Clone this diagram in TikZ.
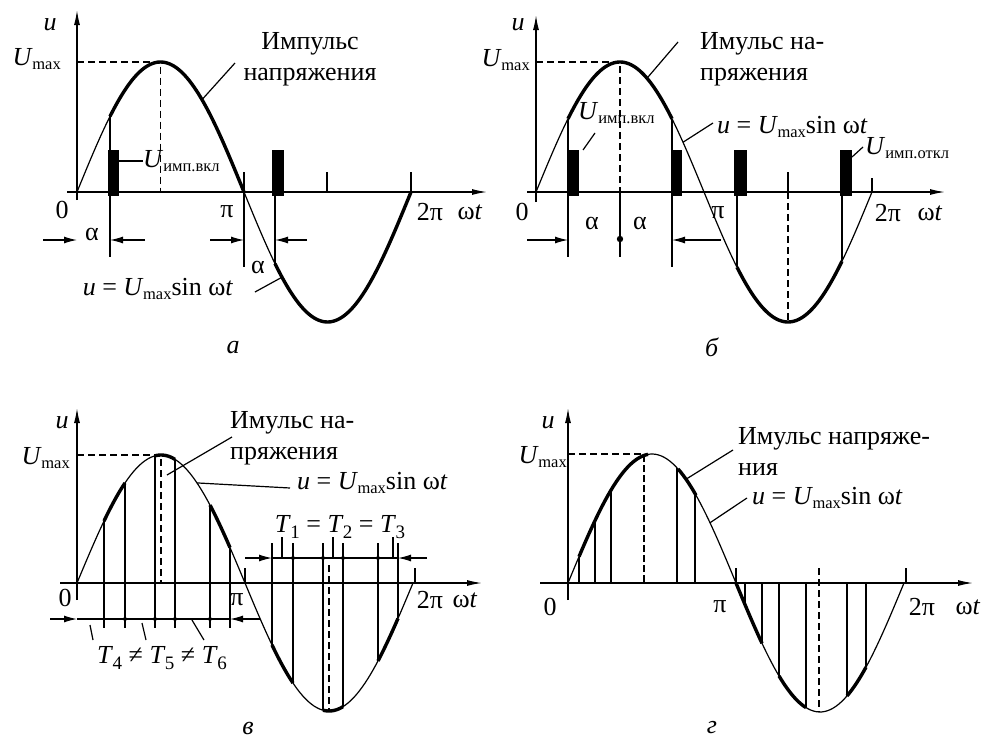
\documentclass[tikz,border=0pt]{standalone}
\usepackage{fontspec}
\setmainfont{Liberation Serif}
\usetikzlibrary{arrows.meta}
\newcommand\fs{\fontsize{26}{31}\selectfont}
\newcommand\sbs[1]{\raisebox{-0.4ex}{\fontsize{16.5}{16.5}\selectfont #1}}
\newcommand\Umx{\textit{U}\kern-0.5pt\sbs{max}}
\newcommand\formula{\textit{u} = \Umx sin ω\textit{t}}
\newcommand\tsub[1]{\textit{T}\kern-0.5pt\raisebox{-0.45ex}{\fontsize{19}{19}\selectfont #1}}
\newcommand\cv[1]{(#1,{-\am*sin((#1)/\hp*180)})}
\begin{document}
\begin{tikzpicture}[x=1pt,y=-1pt,
  axis/.style={line width=1.3pt,-{Latex[length=15pt,width=6pt]}},
  thinw/.style={line width=1.2pt},
  thickw/.style={line width=3.4pt},
  pline/.style={line width=2.4pt},
  dsh/.style={line width=1.1pt,dash pattern=on 7pt off 4pt},
  dim/.style={line width=1.2pt,-{Latex[length=13pt,width=7pt]}},
  lbl/.style={font=\fs,inner sep=0pt},
  pulse/.style={fill=black,draw=none}]
\path[use as bounding box] (0,0) rectangle (989,742);

% ================= panel a
\begin{scope}[shift={(77,192)}]
\def\hp{167}\def\am{130}
\draw[axis] (0,8) -- (0,-182);
\draw[axis] (-10,0) -- (410,0);
\draw[thinw] plot[domain=0:33,samples=15] (\x,{-\am*sin(\x/\hp*180)});
\draw[thickw] plot[domain=33:167,samples=60] (\x,{-\am*sin(\x/\hp*180)});
\draw[thinw] plot[domain=167:198,samples=15] (\x,{-\am*sin(\x/\hp*180)});
\draw[thickw] plot[domain=198:334,samples=60] (\x,{-\am*sin(\x/\hp*180)});
\draw[dsh] (0,-130) -- (83.5,-130) -- (83.5,0);
\draw[thinw] (167,-20) -- (167,0) (250,-20) -- (250,0) (334,-20) -- (334,0);
\fill[pulse] (31,-42) rectangle (42,4);
\fill[pulse] (195,-42) rectangle (207,4);
\draw[thinw] \cv{33} -- (33,65);
\draw[pline] (198,0) -- \cv{198};
\draw[thinw] (167,0) -- (167,75);
\coordinate (a-d1) at (-34,48); \coordinate (a-d1e) at (0,48);
\coordinate (a-d2) at (68,48); \coordinate (a-d2e) at (33,48);
\coordinate (a-d3) at (133,48); \coordinate (a-d3e) at (167,48);
\coordinate (a-d4) at (230,48); \coordinate (a-d4e) at (198,48);
\draw[dim] (a-d1) -- (a-d1e);
\draw[dim] (a-d2) -- (a-d2e);
\draw[dim] (a-d3) -- (a-d3e);
\draw[dim] (a-d4) -- (a-d4e);
\node[lbl] (a-al1) at (15,42) {α};
\node[lbl] (a-al2) at (181,75) {α};
\node[lbl] (a-u) at (-27,-167) {\textit{u}};
\node[lbl,anchor=east] (a-um) at (-16,-133) {\Umx};
\node[lbl] (a-0) at (-15,18) {0};
\node[lbl] (a-pi) at (150,20) {π};
\node[lbl] (a-2pi) at (353,20) {2π};
\node[lbl] (a-wt) at (393,20) {ω\textit{t}};
\node[lbl,align=center] (a-imp) at (233,-133) {Импульс\\напряжения};
\path \cv{125} coordinate (a-c1);
\coordinate (a-c1e) at (158,-129);
\draw[thinw] (a-c1) -- (a-c1e);
\node[lbl,anchor=west] (a-uv) at (66,-31) {\textit{U}\sbs{имп.вкл}};
\coordinate (a-r1) at (42,-31);
\draw[thinw] (a-r1) -- (a-uv.west);
\node[lbl] (a-f) at (81,97) {\formula};
\path \cv{205} coordinate (a-c2);
\coordinate (a-fe) at (178,100);
\draw[thinw] (a-fe) -- (a-c2);
\node[lbl] (a-cap) at (156,156) {\textit{а}};
\end{scope}

% ================= panel b
\begin{scope}[shift={(536,192)}]
\def\hp{168}\def\am{130}
\draw[axis] (0,10) -- (0,-177);
\draw[axis] (-9,0) -- (409,0);
\draw[thinw] plot[domain=0:32,samples=15] (\x,{-\am*sin(\x/\hp*180)});
\draw[thickw] plot[domain=32:136,samples=60] (\x,{-\am*sin(\x/\hp*180)});
\draw[thinw] plot[domain=136:201,samples=25] (\x,{-\am*sin(\x/\hp*180)});
\draw[thickw] plot[domain=201:306,samples=60] (\x,{-\am*sin(\x/\hp*180)});
\draw[thinw] plot[domain=306:336,samples=15] (\x,{-\am*sin(\x/\hp*180)});
\draw[dsh] (0,-130) -- (84,-130) -- (84,0);
\draw[thinw] (84,0) -- (84,65);
\fill (84,47) circle (3.2);
\draw[thinw] (252,-20) -- (252,0) (336,-14) -- (336,0);
\draw[dsh] (252,0) -- (252,128);
\fill[pulse] (32,-42) rectangle (43,4);
\fill[pulse] (136,-42) rectangle (146,4);
\fill[pulse] (198,-42) rectangle (211,4);
\fill[pulse] (304,-42) rectangle (316,4);
\draw[thinw] \cv{32} -- (32,65);
\draw[thinw] \cv{136} -- (136,75);
\draw[pline] (201,0) -- \cv{201};
\draw[pline] (306,0) -- \cv{306};
\coordinate (b-d1) at (-9,48); \coordinate (b-d1e) at (32,48);
\coordinate (b-d2) at (185,48); \coordinate (b-d2e) at (136,48);
\draw[dim] (b-d1) -- (b-d1e);
\draw[dim] (b-d2) -- (b-d2e);
\node[lbl] (b-al1) at (56,31) {α};
\node[lbl] (b-al2) at (104,31) {α};
\node[lbl] (b-u) at (-18,-167) {\textit{u}};
\node[lbl,anchor=east] (b-um) at (-6,-132) {\Umx};
\node[lbl] (b-0) at (-14,20) {0};
\node[lbl] (b-pi) at (182,21) {π};
\node[lbl] (b-2pi) at (352,21) {2π};
\node[lbl] (b-wt) at (394,21) {ω\textit{t}};
\node[lbl,align=left,anchor=west] (b-imp) at (164,-133) {Имульс на-\\пряжения};
\path \cv{111} coordinate (b-c1);
\coordinate (b-c1e) at (142,-150);
\draw[thinw] (b-c1) -- (b-c1e);
\node[lbl,anchor=west] (b-f) at (181,-65) {\formula};
\path \cv{147} coordinate (b-c2);
\coordinate (b-c2e) at (177,-69);
\draw[thinw] (b-c2) -- (b-c2e);
\node[lbl,anchor=west] (b-uv) at (42,-79) {\textit{U}\sbs{имп.вкл}};
\coordinate (b-r1) at (47,-42); \coordinate (b-r1e) at (59,-59);
\draw[thinw] (b-r1) -- (b-r1e);
\node[lbl,anchor=west] (b-uo) at (329,-44) {\textit{U}\sbs{имп.откл}};
\coordinate (b-r4) at (316,-35); \coordinate (b-r4e) at (327,-45);
\draw[thinw] (b-r4) -- (b-r4e);
\node[lbl] (b-cap) at (176,155) {\textit{б}};
\end{scope}

% ================= panel v
\begin{scope}[shift={(77,583)}]
\def\hp{168}\def\am{128}
\draw[axis] (0,17) -- (0,-175);
\draw[axis] (-17,0) -- (405,0);
\draw[thinw] plot[domain=0:336,samples=120] (\x,{-\am*sin(\x/\hp*180)});
\foreach \s/\e in {27/48,78/98,133/153,195/216,246/266,301/321}
  \draw[thickw] plot[domain=\s:\e,samples=15] (\x,{-\am*sin(\x/\hp*180)});
\foreach \p in {27,48,78,98,133,153}
  \draw[pline] \cv{\p} -- (\p,45);
\foreach \p in {195,216,246,266,301,321}
  \draw[pline] \cv{\p} -- (\p,-40);
\draw[dsh] (0,-128) -- (84,-128) -- (84,0);
\draw[dsh] (252,-18) -- (252,128);
\draw[thinw] (168,-15) -- (168,0) (338,-15) -- (338,0);
% upper dimension
\coordinate (v-u1) at (168,-25); \coordinate (v-u1e) at (195,-25);
\coordinate (v-u2) at (350,-25); \coordinate (v-u2e) at (321,-25);
\draw[dim] (v-u1) -- (v-u1e);
\draw[dim] (v-u2) -- (v-u2e);
\draw[thinw] (v-u1e) -- (v-u2e);
\foreach \p in {216,246,266,301} \fill (\p,-25) circle (2);
\draw[thinw] (205,-46) -- (205,-25) (256,-46) -- (256,-25) (316,-46) -- (316,-25);
\node[lbl] (v-T) at (263,-56) {\tsub{1} = \tsub{2} = \tsub{3}};
% lower dimension
\coordinate (v-l1) at (-27,36); \coordinate (v-l1e) at (0,36);
\coordinate (v-l2) at (183,36); \coordinate (v-l2e) at (153,36);
\draw[dim] (v-l1) -- (v-l1e);
\draw[dim] (v-l2) -- (v-l2e);
\draw[thinw] (v-l1e) -- (v-l2e);
\foreach \p in {48,78,98,133} \fill (\p,36) circle (2);
\draw[thinw] (13,42) -- (16,57) (65,40) -- (69,57) (115,37) -- (127,57);
\node[lbl] (v-T2) at (85,75) {\tsub{4} ≠ \tsub{5} ≠ \tsub{6}};
\node[lbl] (v-u) at (-15,-160) {\textit{u}};
\node[lbl,anchor=east] (v-um) at (-7,-125) {\Umx};
\node[lbl] (v-0) at (-12,15) {0};
\node[lbl] (v-pi) at (160,17) {π};
\node[lbl] (v-2pi) at (353,17) {2π};
\node[lbl] (v-wt) at (388,17) {ω\textit{t}};
\node[lbl,align=left,anchor=west] (v-imp) at (153,-145) {Имульс на-\\пряжения};
\coordinate (v-c1) at (90,-108); \coordinate (v-c1e) at (155,-146);
\draw[thinw] (v-c1) -- (v-c1e);
\node[lbl,anchor=west] (v-f) at (220,-100) {\formula};
\path \cv{120} coordinate (v-c2); \coordinate (v-c2e) at (213,-95);
\draw[thinw] (v-c2) -- (v-c2e);
\node[lbl] (v-cap) at (171,145) {\textit{в}};
\end{scope}

% ================= panel g
\begin{scope}[shift={(568,583)}]
\def\hp{168}\def\am{129}
\draw[axis] (0,17) -- (0,-175);
\draw[axis] (-28,0) -- (405,0);
\draw[thinw] plot[domain=0:336,samples=120] (\x,{-\am*sin(\x/\hp*180)});
\foreach \s/\e in {11/80,110/128,168/194,211/238,279/298}
  \draw[thickw] plot[domain=\s:\e,samples=25] (\x,{-\am*sin(\x/\hp*180)});
\foreach \p in {11,27,43,109,127,177,194,211,238,279,298}
  \draw[pline] \cv{\p} -- (\p,0);
\draw[pline,dash pattern=on 7pt off 3pt] \cv{76} -- (76,0);
\draw[dsh] (0,-129) -- (76,-129);
\draw[dsh] (251,-15) -- (251,129);
\draw[thinw] (168,-15) -- (168,0) (338,-15) -- (338,0);
\node[lbl] (g-u) at (-20,-160) {\textit{u}};
\node[lbl,anchor=east] (g-um) at (-1,-126) {\Umx};
\node[lbl] (g-0) at (-18,24) {0};
\node[lbl] (g-pi) at (152,24) {π};
\node[lbl] (g-2pi) at (354,24) {2π};
\node[lbl] (g-wt) at (400,24) {ω\textit{t}};
\node[lbl,align=left,anchor=west] (g-imp) at (170,-132) {Имульс напряже-\\ния};
\path \cv{118} coordinate (g-c1); \coordinate (g-c1e) at (165,-133);
\draw[thinw] (g-c1) -- (g-c1e);
\node[lbl,anchor=west] (g-f) at (184,-85) {\formula};
\path \cv{142} coordinate (g-c2); \coordinate (g-c2e) at (179,-85);
\draw[thinw] (g-c2) -- (g-c2e);
\node[lbl] (g-cap) at (144,145) {\textit{г}};
\end{scope}
\end{tikzpicture}
\end{document}
